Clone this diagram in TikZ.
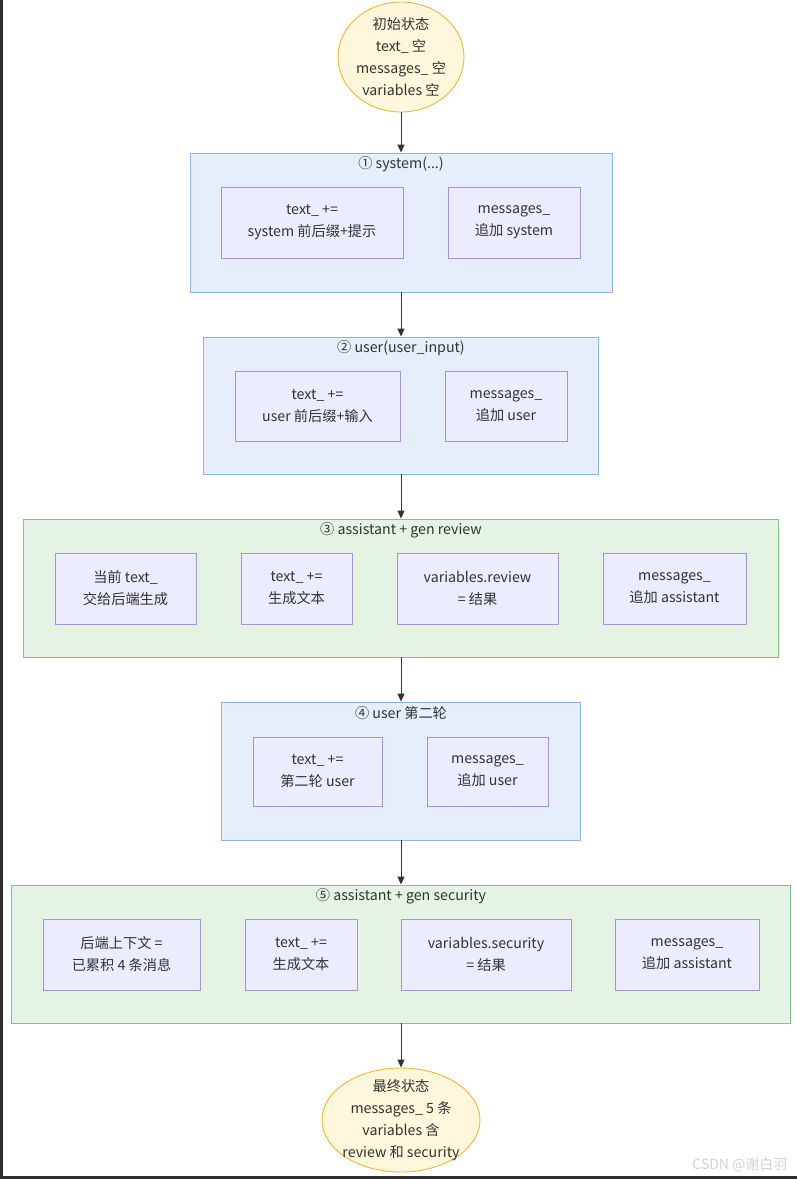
\documentclass[tikz,border=0pt]{standalone}
\usepackage{fontspec}
\setmainfont{Noto Sans CJK SC}
\usetikzlibrary{shapes.geometric,arrows.meta}
\definecolor{txt}{HTML}{333333}
\definecolor{bfill}{HTML}{E7EEFB}
\definecolor{bdraw}{HTML}{8DB3EE}
\definecolor{gfill}{HTML}{E5F3E5}
\definecolor{gdraw}{HTML}{7FC583}
\definecolor{ifill}{HTML}{ECECFF}
\definecolor{idraw}{HTML}{AA90E0}
\definecolor{efill}{HTML}{FEF7DC}
\definecolor{edraw}{HTML}{F1B637}
\definecolor{framecol}{HTML}{2E2E2E}
\tikzset{
  every node/.style={text=txt, font=\fontsize{14.2}{22}\selectfont},
  state/.style={ellipse, draw=edraw, fill=efill, line width=0.9pt, inner sep=0pt},
  bluebox/.style={rectangle, draw=bdraw, fill=bfill, line width=0.9pt, inner sep=0pt},
  greenbox/.style={rectangle, draw=gdraw, fill=gfill, line width=0.9pt, inner sep=0pt},
  item/.style={rectangle, draw=idraw, fill=ifill, line width=0.9pt, inner sep=0pt, align=center},
  title/.style={inner sep=0pt},
  arr/.style={draw=txt, line width=0.9pt, -{Triangle[length=8pt,width=7pt]}},
  wmark/.style={text=gray!35, font=\fontsize{14}{16}\selectfont}
}
\begin{document}
\begin{tikzpicture}[x=1pt,y=-1pt]
\useasboundingbox (0,0) rectangle (797,1179);
\fill[white] (0,0) rectangle (797,1179);
\fill[framecol] (0,0) rectangle (3,1179);
\fill[framecol] (0,1176) rectangle (797,1179);

% start state
\node[state, minimum width=126pt, minimum height=110pt,
  label={[align=center]center:初始状态\\text\_ 空\\messages\_ 空\\variables 空}] (start) at (401,57) {};

% box 1
\node[bluebox, minimum width=422pt, minimum height=139pt] (b1) at (401,222.5) {};
\node[title] (t1) at (401,164) {① system(...)};
\node[item, minimum width=182pt, minimum height=71pt] (b1a) at (312,222.5) {text\_ +=\\system 前后缀+提示};
\node[item, minimum width=132pt, minimum height=71pt] (b1b) at (514,222.5) {messages\_\\追加 system};

% box 2
\node[bluebox, minimum width=395pt, minimum height=137pt] (b2) at (401,405.5) {};
\node[title] (t2) at (401,348) {② user(user\_input)};
\node[item, minimum width=165pt, minimum height=70pt] (b2a) at (317.5,406) {text\_ +=\\user 前后缀+输入};
\node[item, minimum width=122pt, minimum height=70pt] (b2b) at (506,406) {messages\_\\追加 user};

% box 3
\node[greenbox, minimum width=755pt, minimum height=138pt] (b3) at (401,588) {};
\node[title] (t3) at (401,530) {③ assistant + gen review};
\node[item, minimum width=141pt, minimum height=71pt] (b3a) at (125.5,588.5) {当前 text\_\\交给后端生成};
\node[item, minimum width=111pt, minimum height=71pt] (b3b) at (296.5,588.5) {text\_ +=\\生成文本};
\node[item, minimum width=161pt, minimum height=71pt] (b3c) at (477.5,588.5) {variables.review\\= 结果};
\node[item, minimum width=143pt, minimum height=71pt] (b3d) at (674.5,588.5) {messages\_\\追加 assistant};

% box 4
\node[bluebox, minimum width=359pt, minimum height=138pt] (b4) at (401,771) {};
\node[title] (t4) at (401,713) {④ user 第二轮};
\node[item, minimum width=129pt, minimum height=69pt] (b4a) at (317.5,771.5) {text\_ +=\\第二轮 user};
\node[item, minimum width=121pt, minimum height=69pt] (b4b) at (487.5,771.5) {messages\_\\追加 user};

% box 5
\node[greenbox, minimum width=779pt, minimum height=138pt] (b5) at (401,954) {};
\node[title] (t5) at (401,896) {⑤ assistant + gen security};
\node[item, minimum width=157pt, minimum height=71pt] (b5a) at (121.5,954.5) {后端上下文 =\\已累积 4 条消息};
\node[item, minimum width=112pt, minimum height=71pt] (b5b) at (301,954.5) {text\_ +=\\生成文本};
\node[item, minimum width=170pt, minimum height=71pt] (b5c) at (486,954.5) {variables.security\\= 结果};
\node[item, minimum width=144pt, minimum height=71pt] (b5d) at (687,954.5) {messages\_\\追加 assistant};

% end state
\node[state, minimum width=158pt, minimum height=104pt,
  label={[align=center]center:最终状态\\messages\_ 5 条\\variables 含\\review 和 security}] (end) at (401,1120) {};

% connectors
\draw[arr] (start.south) -- (b1.north);
\draw[arr] (b1.south) -- (b2.north);
\draw[arr] (b2.south) -- (b3.north);
\draw[arr] (b3.south) -- (b4.north);
\draw[arr] (b4.south) -- (b5.north);
\draw[arr] (b5.south) -- (end.north);

\node[wmark, anchor=east] (wm) at (791,1165) {CSDN @谢白羽};
\end{tikzpicture}
\end{document}
